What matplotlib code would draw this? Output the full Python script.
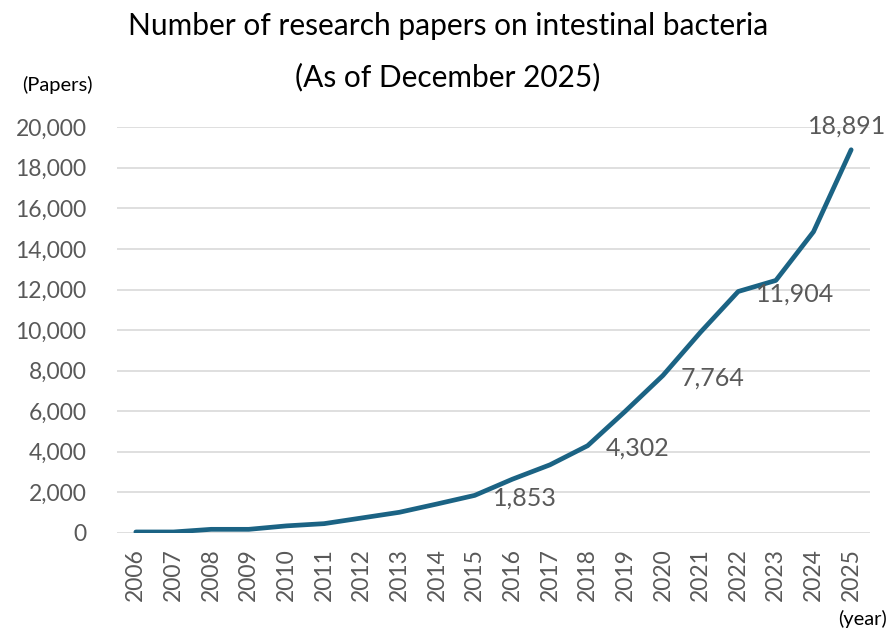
import matplotlib.pyplot as plt
from matplotlib.ticker import FuncFormatter

# data
years = ['2006', '2007', '2008', '2009', '2010', '2011', '2012', '2013', '2014', '2015',
         '2016', '2017', '2018', '2019', '2020', '2021', '2022', '2023', '2024', '2025']
papers = [50, 50, 180, 180, 350, 460, 740, 1020, 1430, 1853,
          2650, 3360, 4302, 6000, 7764, 9900, 11904, 12450, 14850, 18891]
labeled = ['2015', '2018', '2020', '2022']
top_label = '2025'

plt.rcParams['font.family'] = ['Lato', 'DejaVu Sans']
gray = '#595959'
line_color = '#1b6384'

fig = plt.figure(figsize=(8.9, 6.3), dpi=100)
ax = fig.add_axes([0.1315, 0.154, 0.846, 0.644])

x = list(range(len(years)))
ax.plot(x, papers, color=line_color, linewidth=3.4, solid_capstyle='round',
        solid_joinstyle='round', zorder=3)

ax.set_xlim(-0.5, len(years) - 0.5)
ax.set_ylim(0, 20000)
ax.set_yticks(range(0, 20001, 2000))
ax.yaxis.set_major_formatter(FuncFormatter(lambda v, p: f'{int(v):,}'))
ax.set_xticks(x)
ax.set_xticklabels(years, rotation=90)
ax.tick_params(axis='both', length=0, labelsize=16.5, labelcolor=gray)
ax.tick_params(axis='y', pad=22)
ax.tick_params(axis='x', pad=11)
ax.grid(axis='y', color='#d9d9d9', linewidth=1.2, zorder=0)
ax.set_axisbelow(True)
for s in ax.spines.values():
    s.set_visible(False)

for i, (yr, v) in enumerate(zip(years, papers)):
    if yr in labeled:
        ax.annotate(f'{v:,}', (i, v), xytext=(13, -2), textcoords='offset points',
                    ha='left', va='center', fontsize=18, color=gray)
    elif yr == top_label:
        ax.annotate(f'{v:,}', (i, v), xytext=(-3, 17), textcoords='offset points',
                    ha='center', va='center', fontsize=18, color=gray)

fig.text(0.503, 0.958, 'Number of research papers on intestinal bacteria',
         ha='center', va='center', fontsize=21.5, color='black')
fig.text(0.503, 0.878, '(As of December 2025)',
         ha='center', va='center', fontsize=21.5, color='black')
fig.text(0.064, 0.865, '(Papers)', ha='center', va='center', fontsize=14.5, color='black')
fig.text(0.997, 0.017, '(year)', ha='right', va='center', fontsize=14.5, color='black')

fig.savefig('out.png', dpi=100)
